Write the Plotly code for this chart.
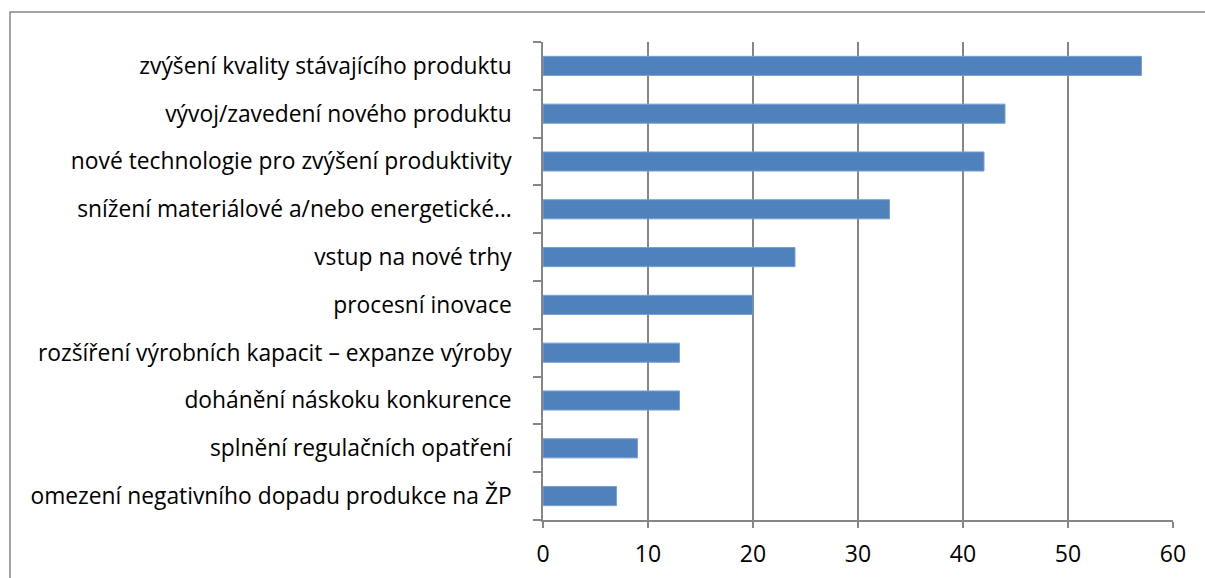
import plotly.graph_objects as go

categories = [
    "zvýšení kvality stávajícího produktu",
    "vývoj/zavedení nového produktu",
    "nové technologie pro zvýšení produktivity",
    "snížení materiálové a/nebo energetické…",
    "vstup na nové trhy",
    "procesní inovace",
    "rozšíření výrobních kapacit – expanze výroby",
    "dohánění náskoku konkurence",
    "splnění regulačních opatření",
    "omezení negativního dopadu produkce na ŽP",
]
values = [57, 44, 42, 33, 24, 20, 13, 13, 9, 7]
x_ticks = [0, 10, 20, 30, 40, 50, 60]

W, H = 1205, 578
L, R, T, B = 543, 32, 42, 58
pw, ph = W - L - R, H - T - B

def px_x(px):
    return (px - L) / pw

def px_y(py):
    return (H - B - py) / ph

grey = "#868686"
font = "Open Sans"

fig = go.Figure(go.Bar(
    y=categories, x=values, orientation="h",
    marker=dict(color="#4F81BD", line=dict(color="#7A9FD0", width=1)),
    width=0.4,
))

fig.update_layout(
    width=W, height=H,
    margin=dict(l=L, r=R, t=T, b=B, pad=0),
    paper_bgcolor="white", plot_bgcolor="white",
    showlegend=False,
    font=dict(family=font, size=22, color="black"),
    xaxis=dict(
        range=[0, 60], tickvals=x_ticks, ticktext=[str(v) for v in x_ticks],
        showgrid=True, gridcolor=grey, gridwidth=1.5,
        showline=True, linecolor=grey, linewidth=1.5,
        ticks="outside", ticklen=6, tickcolor=grey, tickwidth=1.5,
        ticklabelstandoff=7,
        tickfont=dict(size=23, family=font), zeroline=False,
        automargin=False, fixedrange=True,
    ),
    yaxis=dict(
        categoryorder="array", categoryarray=categories[::-1],
        showline=True, linecolor=grey, linewidth=1.5,
        ticks="outside", ticklen=8, tickcolor=grey, tickwidth=1.5,
        tickson="boundaries", showgrid=False,
        ticklabelstandoff=25,
        tickfont=dict(size=22.8, family=font),
        automargin=False, fixedrange=True,
    ),
    shapes=[dict(
        type="rect", xref="paper", yref="paper",
        x0=px_x(10), x1=px_x(1215), y0=px_y(590), y1=px_y(12),
        line=dict(color=grey, width=1.5), fillcolor="rgba(0,0,0,0)",
        layer="below",
    )],
)

fig.write_html("out.html", config={"displayModeBar": False},
               post_script="document.body.style.margin='0';")
